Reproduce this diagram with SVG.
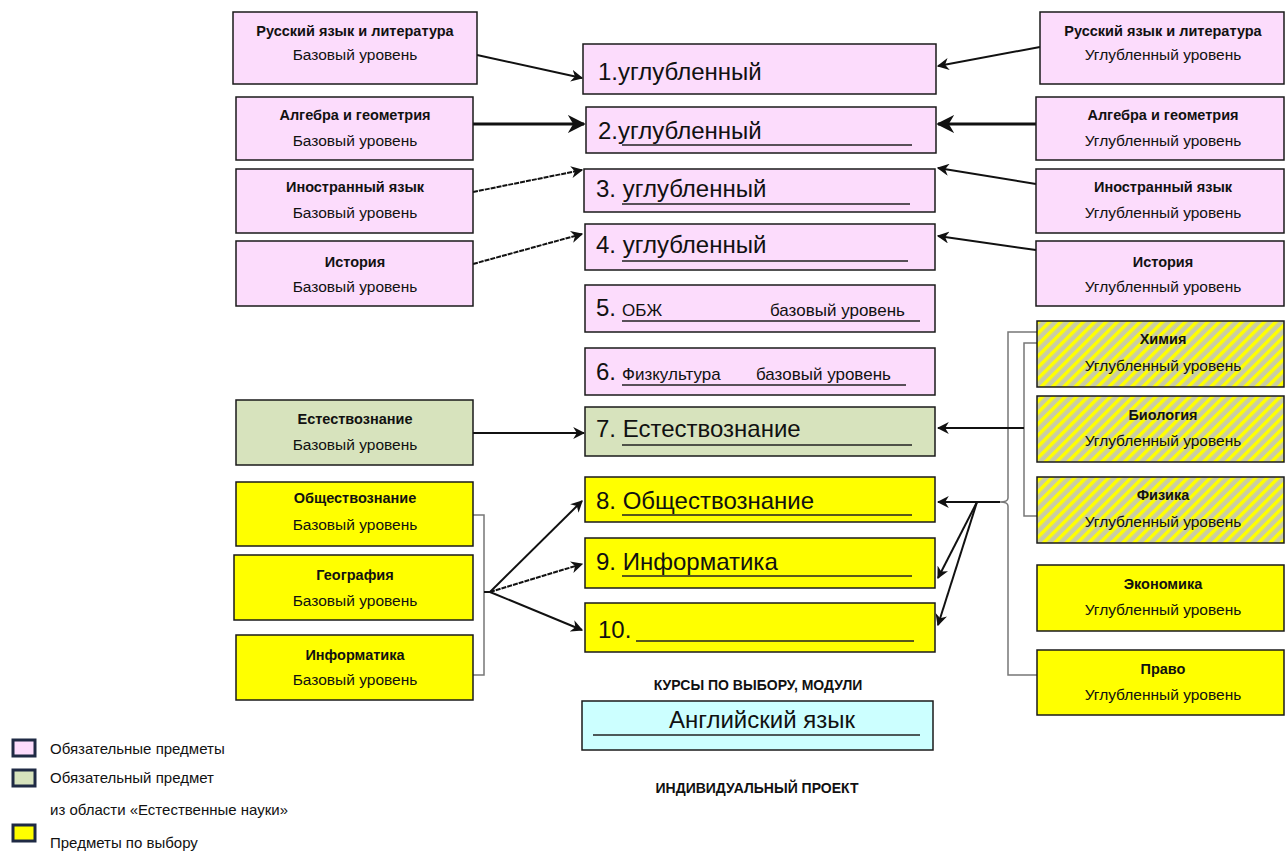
<svg xmlns="http://www.w3.org/2000/svg" width="1285" height="855" viewBox="0 0 1285 855">
<style>
.box{stroke:#1a1a1a;stroke-width:1.5}
.pink{fill:#fcdcfc}
.green{fill:#d7e3bd}
.yel{fill:#ffff00}
.cyan{fill:#ccffff}
.hatch{fill:url(#hatch)}
.t{font-family:"Liberation Sans Narrow","Liberation Sans",sans-serif;fill:#111;text-anchor:middle}
.b{font-weight:bold;font-size:14.5px}
.n{font-size:15.5px}
.c{font-family:"Liberation Sans Narrow","Liberation Sans",sans-serif;fill:#111;font-size:24px}
.cs{font-family:"Liberation Sans Narrow","Liberation Sans",sans-serif;fill:#111;font-size:17px}
.ul{stroke:#222;stroke-width:1.5}
.arr{stroke:#111;stroke-width:2;fill:none;marker-end:url(#ah)}
.br{stroke:#777;stroke-width:1.5;fill:none}
.lg{font-family:"Liberation Sans Narrow","Liberation Sans",sans-serif;fill:#111;font-size:15px}
</style>
<defs>
<marker id="ah" viewBox="0 0 10 10" refX="9" refY="5" markerWidth="6" markerHeight="6" orient="auto" markerUnits="strokeWidth">
<path d="M0,0 L10,5 L0,10 L3,5 z" fill="#111"/>
</marker>
<pattern id="hatch" patternUnits="userSpaceOnUse" width="8" height="8" patternTransform="rotate(45)">
<rect width="8" height="8" fill="#c9cca6"/>
<rect width="3.5" height="8" fill="#ffff00"/>
</pattern>
</defs>

<g id="connectors">
<line class="arr" x1="477" y1="55" x2="582" y2="78"/>
<line class="arr" x1="1040" y1="47" x2="938" y2="66"/>
<line class="arr" x1="473" y1="124" x2="584" y2="124" style="stroke-width:3"/>
<line class="arr" x1="1036" y1="124" x2="938" y2="124" style="stroke-width:3"/>
<line class="arr" x1="473" y1="192" x2="582" y2="170" style="stroke-dasharray:5 1"/>
<line class="arr" x1="1036" y1="184" x2="938" y2="168"/>
<line class="arr" x1="473" y1="264" x2="582" y2="234" style="stroke-dasharray:5 1"/>
<line class="arr" x1="1036" y1="250" x2="938" y2="236"/>
<line class="arr" x1="473" y1="433" x2="584" y2="433"/>
<path class="br" d="M1037,343 H1024 V516 H1037"/>
<path class="br" d="M1037,332 H1008 V498 Q1008,502 1000,502 Q1008,502 1008,506 V675 H1037"/>
<line class="arr" x1="1024" y1="428" x2="938" y2="428"/>
<line class="arr" x1="1000" y1="502" x2="938" y2="502"/>
<line class="arr" x1="977" y1="502" x2="938" y2="578"/>
<line class="arr" x1="977" y1="502" x2="938" y2="625"/>
<path class="br" d="M473,515 H484 V675 H473"/>
<line class="arr" x1="490" y1="592" x2="582" y2="501"/>
<line class="arr" x1="490" y1="592" x2="582" y2="564" style="stroke-dasharray:5 1"/>
<line class="arr" x1="490" y1="592" x2="582" y2="630"/>
<line x1="484" y1="592" x2="492" y2="592" stroke="#111" stroke-width="2"/>
</g>

<g id="l-rus"><rect class="box pink" x="233" y="12" width="244" height="72"/>
<text class="t b" x="355" y="36">Русский язык и литература</text><text class="t n" x="355" y="60">Базовый уровень</text></g>
<g id="l-alg"><rect class="box pink" x="236" y="97" width="237" height="63"/>
<text class="t b" x="355" y="120">Алгебра и геометрия</text><text class="t n" x="355" y="146">Базовый уровень</text></g>
<g id="l-for"><rect class="box pink" x="236" y="169" width="237" height="64"/>
<text class="t b" x="355" y="192">Иностранный язык</text><text class="t n" x="355" y="218">Базовый уровень</text></g>
<g id="l-his"><rect class="box pink" x="236" y="241" width="237" height="65"/>
<text class="t b" x="355" y="267">История</text><text class="t n" x="355" y="292">Базовый уровень</text></g>
<g id="l-est"><rect class="box green" x="236" y="400" width="237" height="65"/>
<text class="t b" x="355" y="424">Естествознание</text><text class="t n" x="355" y="450">Базовый уровень</text></g>
<g id="l-obsh"><rect class="box yel" x="236" y="482" width="237" height="64"/>
<text class="t b" x="355" y="503">Обществознание</text><text class="t n" x="355" y="530">Базовый уровень</text></g>
<g id="l-geo"><rect class="box yel" x="234" y="555" width="239" height="65"/>
<text class="t b" x="355" y="580">География</text><text class="t n" x="355" y="606">Базовый уровень</text></g>
<g id="l-inf"><rect class="box yel" x="236" y="635" width="237" height="65"/>
<text class="t b" x="355" y="660">Информатика</text><text class="t n" x="355" y="685">Базовый уровень</text></g>

<g id="c1"><rect class="box pink" x="583" y="44" width="353" height="50"/>
<text class="c" x="598" y="80">1.углубленный</text></g>
<g id="c2"><rect class="box pink" x="586" y="107" width="350" height="46"/>
<text class="c" x="598" y="139">2.углубленный</text><line class="ul" x1="622" y1="145" x2="912" y2="145"/></g>
<g id="c3"><rect class="box pink" x="584" y="169" width="351" height="43"/>
<text class="c" x="596" y="197">3. углубленный</text><line class="ul" x1="622" y1="204" x2="910" y2="204"/></g>
<g id="c4"><rect class="box pink" x="585" y="224" width="350" height="46"/>
<text class="c" x="596" y="253">4. углубленный</text><line class="ul" x1="622" y1="261" x2="908" y2="261"/></g>
<g id="c5"><rect class="box pink" x="585" y="285" width="350" height="47"/>
<text class="c" x="596" y="316">5.</text><text class="cs" x="622" y="316">ОБЖ</text><text class="cs" x="770" y="316">базовый уровень</text><line class="ul" x1="622" y1="321" x2="920" y2="321"/></g>
<g id="c6"><rect class="box pink" x="585" y="348" width="350" height="47"/>
<text class="c" x="596" y="380">6.</text><text class="cs" x="622" y="380">Физкультура</text><text class="cs" x="756" y="380">базовый уровень</text><line class="ul" x1="622" y1="385" x2="906" y2="385"/></g>
<g id="c7"><rect class="box green" x="585" y="407" width="350" height="49"/>
<text class="c" x="596" y="437">7. Естествознание</text><line class="ul" x1="622" y1="445" x2="912" y2="445"/></g>
<g id="c8"><rect class="box yel" x="585" y="477" width="350" height="45"/>
<text class="c" x="596" y="509">8. Обществознание</text><line class="ul" x1="622" y1="515" x2="912" y2="515"/></g>
<g id="c9"><rect class="box yel" x="585" y="538" width="350" height="50"/>
<text class="c" x="596" y="570">9. Информатика</text><line class="ul" x1="622" y1="576" x2="912" y2="576"/></g>
<g id="c10"><rect class="box yel" x="585" y="603" width="350" height="49"/>
<text class="c" x="598" y="638">10.</text><line class="ul" x1="636" y1="641" x2="914" y2="641"/></g>
<g id="courses"><text class="t b" x="758" y="690" style="font-size:14px">КУРСЫ ПО ВЫБОРУ, МОДУЛИ</text></g>
<g id="eng"><rect class="box cyan" x="582" y="701" width="351" height="49"/>
<text class="c" x="762" y="728" text-anchor="middle">Английский язык</text><line class="ul" x1="593" y1="735" x2="920" y2="735"/></g>
<g id="proj"><text class="t b" x="757" y="793" style="font-size:14px">ИНДИВИДУАЛЬНЫЙ ПРОЕКТ</text></g>

<g id="r-rus"><rect class="box pink" x="1040" y="12" width="244" height="72"/>
<text class="t b" x="1163" y="36">Русский язык и литература</text><text class="t n" x="1163" y="60">Углубленный уровень</text></g>
<g id="r-alg"><rect class="box pink" x="1036" y="97" width="248" height="63"/>
<text class="t b" x="1163" y="120">Алгебра и геометрия</text><text class="t n" x="1163" y="146">Углубленный уровень</text></g>
<g id="r-for"><rect class="box pink" x="1036" y="169" width="248" height="64"/>
<text class="t b" x="1163" y="192">Иностранный язык</text><text class="t n" x="1163" y="218">Углубленный уровень</text></g>
<g id="r-his"><rect class="box pink" x="1036" y="241" width="248" height="65"/>
<text class="t b" x="1163" y="267">История</text><text class="t n" x="1163" y="292">Углубленный уровень</text></g>
<g id="r-chem"><rect class="box hatch" x="1037" y="321" width="247" height="66"/>
<text class="t b" x="1163" y="344">Химия</text><text class="t n" x="1163" y="371">Углубленный уровень</text></g>
<g id="r-bio"><rect class="box hatch" x="1037" y="396" width="247" height="66"/>
<text class="t b" x="1163" y="420">Биология</text><text class="t n" x="1163" y="446">Углубленный уровень</text></g>
<g id="r-phys"><rect class="box hatch" x="1037" y="477" width="247" height="66"/>
<text class="t b" x="1163" y="500">Физика</text><text class="t n" x="1163" y="527">Углубленный уровень</text></g>
<g id="r-econ"><rect class="box yel" x="1037" y="565" width="247" height="66"/>
<text class="t b" x="1163" y="589">Экономика</text><text class="t n" x="1163" y="615">Углубленный уровень</text></g>
<g id="r-law"><rect class="box yel" x="1037" y="650" width="247" height="65"/>
<text class="t b" x="1163" y="674">Право</text><text class="t n" x="1163" y="700">Углубленный уровень</text></g>

<g id="legend">
<rect x="13" y="740" width="22" height="16" fill="#fcdcfc" stroke="#1f2a44" stroke-width="3"/>
<text class="lg" x="50" y="754">Обязательные предметы</text>
<rect x="13" y="770" width="22" height="16" fill="#d7e3bd" stroke="#1f2a44" stroke-width="3"/>
<text class="lg" x="50" y="783">Обязательный предмет</text>
<text class="lg" x="50" y="815">из области «Естественные науки»</text>
<rect x="13" y="825" width="22" height="16" fill="#ffff00" stroke="#1f2a44" stroke-width="3"/>
<text class="lg" x="50" y="848">Предметы по выбору</text>
</g>
</svg>
